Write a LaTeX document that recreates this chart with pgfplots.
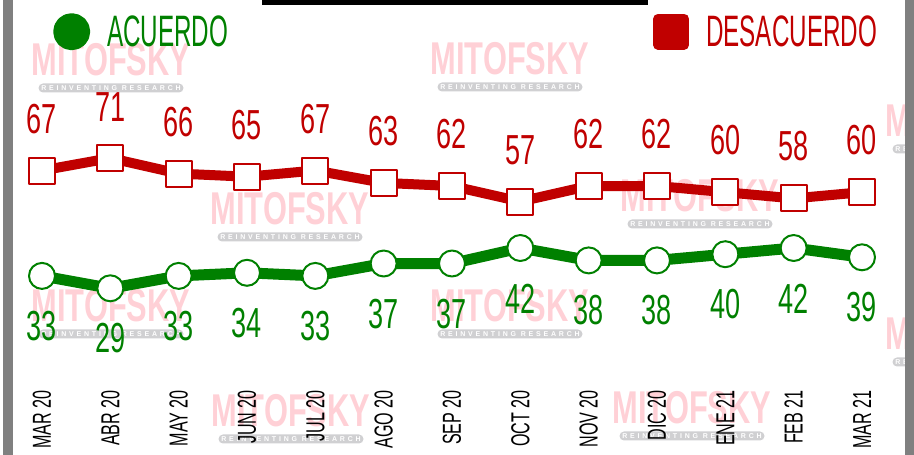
\documentclass[border=0pt]{standalone}
\usepackage{pgfplots}
\pgfplotsset{compat=1.18}
\usepackage{fontspec}
\setmainfont{Liberation Sans}
\newfontfamily\numfont{Liberation Sans}[FakeStretch=0.645]
\newfontfamily\tickfont{Liberation Sans}[FakeStretch=0.62]
\newfontfamily\legfont{Liberation Sans}[FakeStretch=0.55]
\newfontfamily\wmfont{Liberation Sans}[FakeStretch=0.67]
\newfontfamily\wmsmall{Liberation Sans}[LetterSpace=40]
\definecolor{gcol}{RGB}{0,128,0}
\definecolor{rcol}{RGB}{192,0,0}
\definecolor{wmpink}{RGB}{255,208,214}
\definecolor{wmgray}{RGB}{208,208,210}
\definecolor{bordergray}{RGB}{128,128,128}
\newcommand\wm[2]{%
  \node[text=wmpink, font=\wmfont\bfseries\fontsize{46}{46}\selectfont, inner sep=0pt, anchor=center] at (#1,#2) {MITOFSKY};
  \node[fill=wmgray, rounded corners=4.5pt, minimum width=145pt, minimum height=9pt, inner sep=0pt, text=white, font=\wmsmall\bfseries\fontsize{7}{7}\selectfont] at (#1,#2+28) {REINVENTING RESEARCH};
}
\begin{document}
\begin{tikzpicture}
\begin{scope}[x=1pt,y=-1pt,yshift=455pt]
  \wm{111}{60}
  \wm{510}{59}
  \wm{290}{209}
  \wm{700}{196}
  \wm{111}{306}
  \wm{510}{306}
  \wm{291}{411}
  \wm{692}{408}
  \wm{965}{121}
  \wm{965}{334}
\end{scope}
\begin{axis}[
  scale only axis, width=914pt, height=455pt,
  at={(0,0)}, anchor=south west,
  xmin=-0.6146, xmax=12.761, ymin=-24.77, ymax=122,
  axis line style={draw=none}, ytick=\empty,
  xtick={0,...,12},
  xticklabels={MAR 20, ABR 20, MAY 20, JUN 20, JUL 20, AGO 20, SEP 20, OCT 20, NOV 20, DIC 20, ENE 21, FEB 21, MAR 21},
  xtick style={draw=none}, major tick length=0pt,
  xticklabel style={rotate=90, anchor=east, inner sep=0pt, font=\tickfont\fontsize{26}{26}\selectfont, text=black},
  xticklabel shift=-65pt,
  /pgf/number format/assume math mode=true,
  clip=false,
  legend columns=2,
  legend style={draw=none, fill=none, at={(rel axis cs:0,1)}, anchor=north west, xshift=53pt, yshift=-13pt, inner sep=0pt,
    font=\legfont\fontsize{44}{44}\selectfont,
    /tikz/every odd column/.append style={column sep=15pt},
    /tikz/every even column/.append style={column sep=423pt}},
]
\addplot[gcol, line width=11pt, line join=round, mark=*, mark size=13pt,
  mark options={fill=white, draw=gcol, line width=2pt},
  nodes near coords,
  every node near coord/.append style={anchor=south, yshift=-66pt, inner sep=0pt, text=gcol, font=\numfont\fontsize{42}{42}\selectfont},
  legend image code/.code={\fill[gcol] (13pt,0pt) circle (13pt);}]
  coordinates {(0,33) (1,29) (2,33) (3,34) (4,33) (5,37) (6,37) (7,42) (8,38) (9,38) (10,40) (11,42) (12,39)};
\addlegendentry{\textcolor{gcol}{ACUERDO}}
\addplot[rcol, line width=10pt, line join=round, mark=square*, mark size=13pt,
  mark options={fill=white, draw=rcol, line width=2pt},
  nodes near coords,
  every node near coord/.append style={anchor=south, yshift=36pt, inner sep=0pt, text=rcol, font=\numfont\fontsize{42}{42}\selectfont},
  legend image code/.code={\fill[rcol] (0pt,-13pt) rectangle (26pt,13pt); \path (25pt,0pt);}]
  coordinates {(0,67) (1,71) (2,66) (3,65) (4,67) (5,63) (6,62) (7,57) (8,62) (9,62) (10,60) (11,58) (12,60)};
\addlegendentry{\textcolor{rcol}{DESACUERDO}}
\end{axis}
\begin{scope}[x=1pt,y=-1pt,yshift=455pt]
  \fill[bordergray] (3,0) rectangle (13,455);
  \fill[bordergray] (905,0) rectangle (914,455);
  \fill[black] (262,0) rectangle (648,5.5);
\end{scope}
\pgfresetboundingbox
\path (0,0) rectangle (914pt,455pt);
\end{tikzpicture}
\end{document}
